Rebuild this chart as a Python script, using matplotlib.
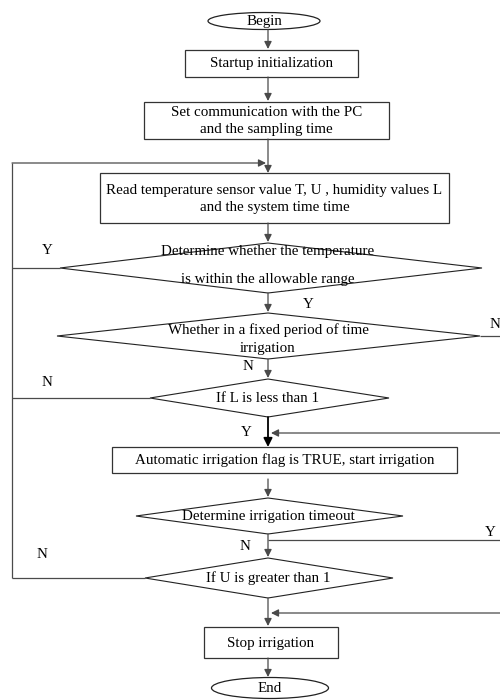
import matplotlib.pyplot as plt
from matplotlib.patches import Ellipse, Rectangle, Polygon

# node texts
terminal_labels = ["Begin", "End"]
process_labels = [
    "Startup initialization",
    "Set communication with the PC\nand the sampling time",
    "Read temperature sensor value T, U , humidity values L\nand the system time time",
    "Automatic irrigation flag is TRUE, start irrigation",
    "Stop irrigation",
]
decision_labels = [
    "Determine whether the temperature\nis within the allowable range",
    "Whether in a fixed period of time\nirrigation",
    "If L is less than 1",
    "Determine irrigation timeout",
    "If U is greater than 1",
]
branch_labels = ["Y", "Y", "N", "N", "N", "Y", "N", "Y", "N"]

LINE = "#4a4a4a"
plt.rcParams["font.family"] = ["Liberation Serif", "DejaVu Serif"]

fig = plt.figure(figsize=(5, 7), dpi=100)
ax = fig.add_axes([0, 0, 1, 1])
ax.set_xlim(0, 500)
ax.set_ylim(700, 0)
ax.axis("off")

FS = 10.8
CX = 268


def box(x0, x1, y0, y1, text, ls=1.35, dy=0.5):
    ax.add_patch(Rectangle((x0, y0), x1 - x0, y1 - y0, fill=False,
                           ec="#333333", lw=0.9))
    ax.text((x0 + x1) / 2, (y0 + y1) / 2 + dy, text, ha="center", va="center",
            fontsize=FS, linespacing=ls)


def diamond(x0, x1, y0, y1, text, ls=1.35, dy=0.5, cx=CX):
    cy = (y0 + y1) / 2
    ax.add_patch(Polygon([(x0, cy), (cx, y0), (x1, cy), (cx, y1)], closed=True,
                         fill=False, ec="#222222", lw=0.8))
    ax.text(cx, cy + dy, text, ha="center", va="center", fontsize=FS,
            linespacing=ls)


def oval(cx, cy, w, h, text):
    ax.add_patch(Ellipse((cx, cy), w, h, fill=False, ec="#222222", lw=0.9))
    ax.text(cx, cy + 0.5, text, ha="center", va="center", fontsize=FS)


def arrow(x0, y0, x1, y1, color=LINE, lw=0.9, ms=11):
    ax.annotate("", xy=(x1, y1), xytext=(x0, y0),
                arrowprops=dict(arrowstyle="-|>", color=color, lw=lw,
                                mutation_scale=ms, shrinkA=0, shrinkB=0))


def line(xs, ys, color=LINE, lw=0.9):
    ax.plot(xs, ys, color=color, lw=lw, solid_capstyle="butt")


def label(x, y, text):
    ax.text(x, y, text, ha="center", va="center", fontsize=FS)


# shapes
oval(264, 21, 112, 17, terminal_labels[0])
box(185, 358, 50, 77, process_labels[0])
box(144, 389, 102, 139, process_labels[1], ls=1.42)
box(100, 449, 173, 223, process_labels[2], ls=1.35, dy=1)
diamond(60, 482, 243, 293, decision_labels[0], ls=2.45, dy=-2.5)
diamond(57, 480, 313, 359, decision_labels[1], ls=1.5, dy=3.5)
diamond(150, 389, 379, 417, decision_labels[2])
box(112, 457, 447, 473, process_labels[3])
diamond(136, 403, 498, 534, decision_labels[3])
diamond(145, 393, 558, 598, decision_labels[4])
box(204, 338, 627, 658, process_labels[4])
oval(270, 688, 117, 21, terminal_labels[1])

# main flow
arrow(CX, 30, CX, 49)
arrow(CX, 77, CX, 101)
arrow(CX, 139, CX, 173)
arrow(CX, 223, CX, 242)
arrow(CX, 293, CX, 312)
arrow(CX, 359, CX, 378)
arrow(CX, 417, CX, 447, color="black", lw=1.3, ms=13)
arrow(CX, 479, CX, 497)
arrow(CX, 534, CX, 557)
arrow(CX, 598, CX, 626)
arrow(CX, 658, CX, 677)

# loop back on the left
line([60, 12], [268, 268])
line([150, 12], [398, 398])
line([145, 12], [578, 578])
line([12, 12], [163, 578])
arrow(12, 163, 266, 163)

# branches on the right
line([480, 500], [336, 336])
arrow(500, 433, 271, 433)
line([CX, 500], [540, 540])
arrow(500, 613, 271, 613)

# branch labels
label(47, 251, branch_labels[0])
label(308, 304, branch_labels[1])
label(495, 325, branch_labels[2])
label(248, 367, branch_labels[3])
label(47, 382, branch_labels[4])
label(246, 432, branch_labels[5])
label(245, 547, branch_labels[6])
label(490, 533, branch_labels[7])
label(42, 555, branch_labels[8])

fig.savefig("out.png", dpi=100)
